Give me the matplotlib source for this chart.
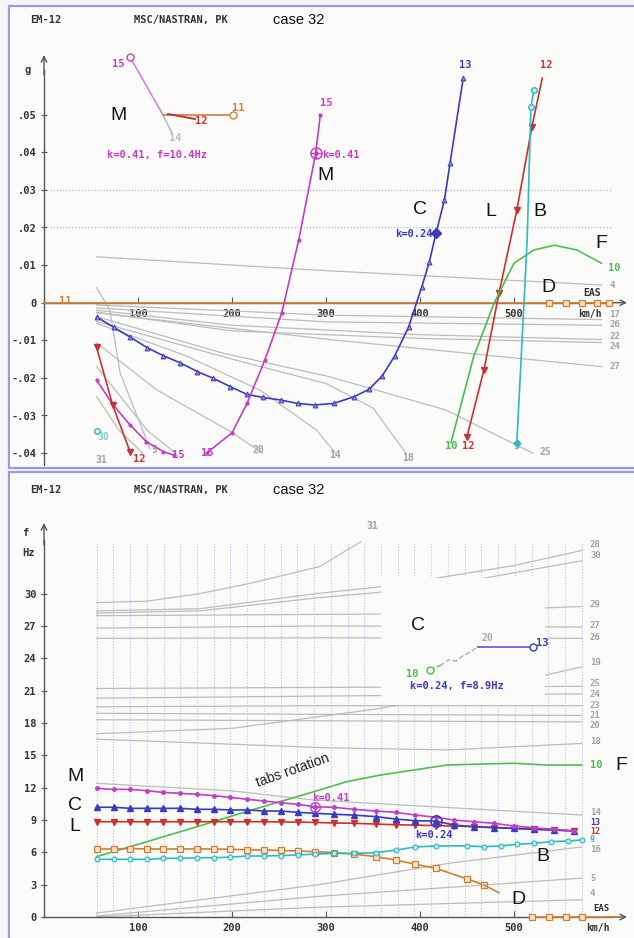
import numpy as np
import matplotlib
matplotlib.use('Agg')
import matplotlib.pyplot as plt
from matplotlib.patches import Rectangle

plt.rcParams['font.family'] = ['DejaVu Sans Mono']
plt.rcParams['font.weight'] = 'bold'

# ============ DATA : top panel (damping g vs EAS km/h) ============
C_top_V = [56, 74, 92, 110, 127, 145, 163, 180, 198, 216, 233, 252, 270, 288,
           308, 330, 346, 360, 373, 388, 402, 410, 417, 426, 432, 446]
C_top_g = [-0.0038, -0.0065, -0.0092, -0.0120, -0.0141, -0.0160, -0.0183, -0.0201,
           -0.0223, -0.0244, -0.0252, -0.0259, -0.0268, -0.0272, -0.0268, -0.0250,
           -0.0230, -0.0194, -0.0142, -0.0064, 0.0043, 0.0109, 0.0185, 0.0273,
           0.0372, 0.0598]
M_top1_V = [56, 73, 91.5, 109, 127, 138]
M_top1_g = [-0.0206, -0.0270, -0.0325, -0.0370, -0.0396, -0.0405]
M_top2_V = [173, 200, 216, 235, 253, 271, 289, 294]
M_top2_g = [-0.0400, -0.0346, -0.0268, -0.0152, -0.0027, 0.0167, 0.0397, 0.0500]
L_top1_V = [56, 73, 91.5]
L_top1_g = [-0.0119, -0.0272, -0.0396]
L_top2_V = [450, 468, 484, 503, 519, 530]
L_top2_g = [-0.0356, -0.0179, 0.0025, 0.0246, 0.0467, 0.0597]
B_top_V = [503, 514, 518, 521]
B_top_g = [-0.0373, 0.0166, 0.0520, 0.0565]
F_top_V = [433, 457, 479, 500, 521, 543, 567, 593]
F_top_g = [-0.0372, -0.0144, 0.0000, 0.0105, 0.0140, 0.0153, 0.0140, 0.0105]
D_top_V = [0, 537, 555, 572, 588, 601, 605]
D_top_g = [0, 0, 0, 0, 0, 0, 0]
D_top_mk = [537, 555, 572, 588, 601]

gray_top = {
    '4':  ([56, 287, 593], [0.0122, 0.0087, 0.0047]),
    '17': ([56, 300, 593], [-0.0006, -0.0033, -0.0045]),
    '26': ([56, 300, 593], [-0.0014, -0.0051, -0.0060]),
    '22': ([56, 200, 400, 593], [-0.0020, -0.0060, -0.0085, -0.0098]),
    '24': ([56, 200, 400, 593], [-0.0025, -0.0075, -0.0095, -0.0106]),
    '27': ([56, 304, 593], [-0.0027, -0.0098, -0.0170]),
    '25': ([56, 190, 304, 427, 520], [-0.0037, -0.0134, -0.0197, -0.0285, -0.0400]),
    '18': ([56, 200, 300, 350, 385], [-0.0050, -0.0150, -0.0215, -0.0280, -0.0400]),
    '14': ([56, 150, 230, 290, 310], [-0.0055, -0.0140, -0.0233, -0.0339, -0.0400]),
    '20': ([56, 120, 200, 232], [-0.0107, -0.0232, -0.0345, -0.0400]),
    '5':  ([56, 70, 81, 113], [0.0040, -0.0020, -0.0187, -0.0390]),
    '31': ([56, 80, 105], [-0.0250, -0.0340, -0.0400]),
    '':   ([56, 110, 140], [-0.0170, -0.0340, -0.0400]),
}

# ============ DATA : bottom panel (frequency f vs EAS km/h) ============
M_bot_V = [56, 74, 92, 110, 127, 145, 163, 181, 198, 216, 234, 252, 270, 288,
           309, 330, 353, 374, 395, 417, 436, 457, 479, 500, 521, 543, 564]
M_bot_f = [11.94, 11.84, 11.84, 11.71, 11.56, 11.47, 11.38, 11.25, 11.10, 10.92,
           10.76, 10.60, 10.45, 10.23, 10.17, 9.99, 9.83, 9.71, 9.46, 9.25, 9.00,
           8.84, 8.69, 8.44, 8.28, 8.13, 8.00]
C_bot_V = M_bot_V
C_bot_f = [10.18, 10.18, 10.08, 10.08, 10.08, 10.08, 9.99, 9.99, 9.93, 9.93, 9.83,
           9.83, 9.71, 9.62, 9.53, 9.45, 9.31, 9.09, 8.93, 8.90, 8.53, 8.38, 8.28,
           8.22, 8.13, 8.07, 7.98]
L_bot_V = M_bot_V
L_bot_f = [8.84, 8.84, 8.84, 8.84, 8.84, 8.84, 8.84, 8.84, 8.84, 8.84, 8.84, 8.82,
           8.80, 8.77, 8.72, 8.69, 8.62, 8.56, 8.52, 8.48, 8.44, 8.38, 8.30, 8.22,
           8.16, 8.07, 7.98]
D_bot_V = [56, 74, 92, 110, 127, 145, 163, 181, 198, 216, 234, 252, 270, 288, 309,
           330, 353, 374, 395, 417, 450, 468]
D_bot_f = [6.31, 6.31, 6.35, 6.31, 6.31, 6.31, 6.31, 6.31, 6.28, 6.24, 6.22, 6.18,
           6.12, 6.06, 5.97, 5.84, 5.59, 5.29, 4.89, 4.52, 3.53, 2.97]
D_bot_tailV = [468, 484]
D_bot_tailf = [2.97, 2.25]
D_bot0_V = [519, 537, 555, 572]
D_bot0_f = [0, 0, 0, 0]
B_bot_V = [56, 74, 92, 110, 127, 145, 163, 181, 198, 216, 234, 252, 270, 288, 309,
           330, 353, 374, 395, 417, 450, 468, 486, 503, 521, 539, 557, 572]
B_bot_f = [5.35, 5.35, 5.35, 5.35, 5.44, 5.44, 5.50, 5.50, 5.55, 5.66, 5.66, 5.70,
           5.75, 5.84, 5.90, 5.90, 5.97, 6.20, 6.50, 6.59, 6.60, 6.52, 6.60, 6.74,
           6.83, 6.99, 7.05, 7.14]
F_bot_V = [56, 110, 163, 220, 287, 322, 358, 394, 429, 465, 500, 535, 572]
F_bot_f = [5.6, 7.0, 8.38, 9.9, 11.62, 12.55, 13.17, 13.64, 14.1, 14.19, 14.26, 14.1, 14.1]

gray_bot = {
    '31': ([56, 110, 166, 219, 293, 337], [29.16, 29.3, 30.0, 30.95, 32.5, 34.8]),
    '28': ([56, 166, 290, 354, 415, 500, 572], [28.4, 28.6, 30.0, 30.6, 31.4, 32.6, 34.0]),
    '30': ([56, 166, 290, 354, 460, 572], [28.2, 28.4, 29.6, 30.1, 31.3, 33.05]),
    '29': ([56, 354, 572], [27.95, 28.1, 28.8]),
    '27': ([56, 300, 572], [26.8, 27.0, 26.9]),
    '26': ([56, 300, 572], [25.85, 25.9, 25.85]),
    '19': ([56, 200, 354, 460, 572], [17.0, 17.5, 19.3, 21.0, 23.2]),
    '25': ([56, 300, 572], [21.2, 21.3, 21.4]),
    '24': ([56, 300, 572], [20.3, 20.5, 20.7]),
    '23': ([56, 300, 572], [19.5, 19.6, 19.6]),
    '21': ([56, 300, 572], [18.9, 18.8, 18.7]),
    '20': ([56, 300, 572], [18.3, 18.2, 18.1]),
    '18': ([56, 300, 430, 572], [16.5, 15.7, 15.5, 16.1]),
    '14': ([56, 200, 287, 572], [12.4, 11.7, 10.85, 9.46]),
    '16': ([56, 290, 432, 572], [0.37, 2.97, 5.0, 6.5]),
    '5':  ([56, 290, 572], [0.1, 1.9, 3.6]),
    '4':  ([56, 290, 572], [0.0, 0.9, 1.6]),
}
gray_bot_lab = {'28': 34.6, '30': 33.5, '29': 29.0, '27': 27.0, '26': 25.95,
                '19': 23.65, '25': 21.65, '24': 20.65, '23': 19.6, '21': 18.65,
                '20': 17.75, '18': 16.3, '14': 9.65, '16': 6.3, '5': 3.6, '4': 2.2}

# root-locus insets (arbitrary Re/Im units)
rlM15_x, rlM15_y = [30, 63], [108, 50]
rlM14_x, rlM14_y = [63, 72], [50, 32]
rlM11_x, rlM11_y = [63, 133], [50, 50]
rlM12_x, rlM12_y = [68, 95], [51, 46]
rlC10_x, rlC10_y = [49, 60], [35, 40]
rlC20_x, rlC20_y = [59, 67, 75, 83, 90, 97], [39, 45, 44, 50, 53, 59]
rlC13_x, rlC13_y = [97, 152], [58, 58]

# ============ STYLE ============
W, H = 634, 938
MAG = '#c13fc4'; BLU = '#3b3bbf'; RED = '#c83232'; CYA = '#2fb9c4'
GRN = '#4cbf4c'; ORA = '#cf7f35'; GRY = '#bcbcbc'; GRT = '#a2a2a2'
AXC = '#555555'; BG = '#fbfbf9'; BORDER = '#9b9be3'
MONO = 'DejaVu Sans Mono'; SANS = 'Liberation Sans'

fig = plt.figure(figsize=(W / 100, H / 100), dpi=100)
fig.patch.set_facecolor('#f6f6f9')


def px_axes(x0, y0, x1, y1):
    return fig.add_axes([x0 / W, 1 - y1 / H, (x1 - x0) / W, (y1 - y0) / H])


def Vpx(px):
    return (px - 44) / 0.94


def gpy(py):
    return (302.7 - py) / 3760


def fpy(py):
    return (917 - py) / 10.78


def lab(ax, x, y, s, c, ha='center', va='center', size=7.5, **kw):
    ax.text(x, y, s, color=c, ha=ha, va=va, fontsize=size, fontweight='bold',
            family=MONO, **kw)


def big(ax, x, y, s, size=14, **kw):
    ax.text(x, y, s, color='#151515', ha='center', va='center', fontsize=size,
            fontweight='normal', family=SANS, **kw)


def setup(ax, ylo, yhi, yticks, ylabels, xhi):
    ax.set_facecolor(BG)
    for s in ['top', 'right']:
        ax.spines[s].set_visible(False)
    ax.spines['left'].set_position(('data', 0))
    ax.spines['bottom'].set_position(('data', 0))
    ax.spines['left'].set_bounds(ylo, yhi)
    ax.spines['bottom'].set_bounds(0, xhi)
    for s in ['left', 'bottom']:
        ax.spines[s].set_color(AXC)
        ax.spines[s].set_linewidth(1.0)
        ax.spines[s].set_zorder(2)
    ax.set_xticks([100, 200, 300, 400, 500])
    ax.set_xticklabels(['100', '200', '300', '400', '500'])
    ax.set_yticks(yticks)
    ax.set_yticklabels(ylabels)
    ax.tick_params(axis='x', direction='in', length=4, color=AXC, labelsize=7.5,
                   pad=4.5, labelcolor='#333333')
    ax.tick_params(axis='y', direction='inout', length=5, color=AXC, labelsize=7.5,
                   pad=3, labelcolor='#333333')


# panel frames
for (y0, y1) in [(6, 468), (472, 945)]:
    fig.add_artist(Rectangle((9 / W, 1 - y1 / H), (640 - 9) / W, (y1 - y0) / H,
                             transform=fig.transFigure, facecolor=BG,
                             edgecolor=BORDER, lw=1.6, zorder=0))

for yy in (20, 490):
    fig.text(30 / W, 1 - yy / H, 'EM-12', fontsize=7.5, fontweight='bold',
             family=MONO, va='center', color='#333333')
    fig.text(134 / W, 1 - yy / H, 'MSC/NASTRAN, PK', fontsize=7.5, fontweight='bold',
             family=MONO, va='center', color='#333333')
    fig.text(273 / W, 1 - yy / H, 'case 32', fontsize=10.5, fontweight='normal',
             family=SANS, va='center', color='#111111')

# ======================= TOP PANEL =======================
ax1 = px_axes(10, 9, 632, 466)
ax1.set_xlim(Vpx(10), Vpx(632))
ax1.set_ylim(gpy(466), gpy(9))
setup(ax1, gpy(465), gpy(70), [-0.04, -0.03, -0.02, -0.01, 0, 0.01, 0.02, 0.03, 0.04, 0.05],
      ['-.04', '-.03', '-.02', '-.01', '0', '.01', '.02', '.03', '.04', '.05'], Vpx(612))
ax1.annotate('', xy=(0, gpy(55)), xytext=(0, gpy(75)),
             arrowprops=dict(arrowstyle='->', color=AXC, lw=1, shrinkA=0, shrinkB=0))
ax1.annotate('', xy=(Vpx(627), 0), xytext=(Vpx(605), 0),
             arrowprops=dict(arrowstyle='->', color=AXC, lw=1, shrinkA=0, shrinkB=0))
lab(ax1, Vpx(28), gpy(70), 'g', '#333333')
lab(ax1, Vpx(592), gpy(293), 'EAS', '#333333', size=7)
lab(ax1, Vpx(590), gpy(314), 'km/h', '#333333', size=7)

for gl in (0.03, 0.02):
    ax1.hlines(gl, Vpx(50), Vpx(611), colors='#a9b9ec', linestyles=(0, (1, 1.5)),
               lw=0.9, zorder=1)

for name, (vv, gg) in gray_top.items():
    ax1.plot(vv, gg, color=GRY, lw=0.9, zorder=2)

# right-side gray labels
for s, py in [('4', 286), ('17', 314), ('26', 324), ('22', 336), ('24', 346), ('27', 366)]:
    lab(ax1, Vpx(609), gpy(py), s, GRT, ha='left', size=6.5)
for s, px, py in [('25', 545, 452), ('18', 408, 458), ('14', 335, 455), ('20', 258, 450),
                  ('5', 154, 450), ('31', 101, 460)]:
    lab(ax1, Vpx(px), gpy(py), s, GRT, size=7)

# coloured modes
ax1.plot(D_top_V, D_top_g, color=ORA, lw=1.2, zorder=3)
ax1.plot(D_top_mk, [0] * len(D_top_mk), ls='none', marker='s', ms=5, mfc='#f6e2c8',
         mec=ORA, mew=0.9, zorder=4)
lab(ax1, Vpx(65), gpy(301), '11', ORA)

ax1.plot(C_top_V, C_top_g, color=BLU, lw=1.2, marker='^', ms=3.5, mfc='#8d8de0',
         mec=BLU, mew=0.7, zorder=5)
ax1.plot([417], [0.0185], ls='none', marker='D', ms=5, color=BLU, zorder=6)
lab(ax1, 413, 0.0183, 'k=0.24', BLU, ha='right')
lab(ax1, Vpx(465), gpy(65), '13', BLU)

ax1.plot(M_top1_V, M_top1_g, color=MAG, lw=1.2, marker='o', ms=2, zorder=5)
ax1.plot(M_top2_V, M_top2_g, color=MAG, lw=1.2, marker='o', ms=2, zorder=5)
ax1.plot([289], [0.0397], ls='none', marker='o', ms=8, mfc='none', mec=MAG, mew=1, zorder=6)
ax1.plot([289], [0.0397], ls='none', marker='+', ms=8, mec=MAG, mew=1, zorder=6)
lab(ax1, 296, 0.0393, 'k=0.41', MAG, ha='left')
lab(ax1, Vpx(326), gpy(103), '15', MAG)
lab(ax1, Vpx(178), gpy(455), '15', MAG)
lab(ax1, Vpx(207), gpy(453), '15', MAG)

ax1.plot(L_top1_V, L_top1_g, color=RED, lw=1.2, marker='v', ms=4, zorder=5)
ax1.plot(L_top2_V[:-1], L_top2_g[:-1], ls='none', marker='v', ms=4, color=RED, zorder=5)
ax1.plot(L_top2_V, L_top2_g, color=RED, lw=1.2, zorder=5)
lab(ax1, Vpx(139), gpy(459), '12', RED)
lab(ax1, Vpx(468), gpy(446), '12', RED)
lab(ax1, Vpx(546), gpy(65), '12', RED)

ax1.plot(F_top_V, F_top_g, color=GRN, lw=1.2, zorder=5)
lab(ax1, Vpx(451), gpy(446), '10', GRN)
lab(ax1, Vpx(614), gpy(268), '10', GRN)

ax1.plot(B_top_V, B_top_g, color=CYA, lw=1.2, zorder=5)
ax1.plot([B_top_V[0]], [B_top_g[0]], ls='none', marker='D', ms=3.5, color=CYA, zorder=6)
ax1.plot(B_top_V[2:], B_top_g[2:], ls='none', marker='o', ms=4, mfc='#bfeef2',
         mec=CYA, zorder=6)
lab(ax1, Vpx(517), gpy(446), '9', CYA)
ax1.plot([56], [-0.034], ls='none', marker='o', ms=4, mfc='none', mec=CYA, zorder=6)
lab(ax1, Vpx(103), gpy(437), '30', '#8fc7cc', size=7)

big(ax1, Vpx(326), gpy(176), 'M')
big(ax1, Vpx(420), gpy(210), 'C')
big(ax1, Vpx(491), gpy(212), 'L')
big(ax1, Vpx(540), gpy(212), 'B')
big(ax1, Vpx(601), gpy(244), 'F')
big(ax1, Vpx(548), gpy(288), 'D')

# top inset (root locus M)
ai = px_axes(100, 45, 260, 165)
ai.set_xlim(0, 160); ai.set_ylim(0, 120); ai.axis('off')
ai.plot(rlM15_x, rlM15_y, color='#c98bd0', lw=1.2)
ai.plot(rlM15_x[:1], rlM15_y[:1], ls='none', marker='o', ms=5, mfc='white', mec=MAG)
ai.plot(rlM14_x, rlM14_y, color='#a9c3c9', lw=1.2)
ai.plot(rlM11_x, rlM11_y, color=ORA, lw=1.2)
ai.plot(rlM11_x[-1:], rlM11_y[-1:], ls='none', marker='o', ms=5, mfc='white', mec=ORA)
ai.plot(rlM12_x, rlM12_y, color=RED, lw=1.4)
lab(ai, 18, 101, '15', MAG)
lab(ai, 75, 27, '14', '#a9c3c9')
lab(ai, 138, 57, '11', ORA)
lab(ai, 101, 44, '12', RED)
big(ai, 18, 50, 'M')
lab(ai, 7, 10, 'k=0.41, f=10.4Hz', MAG, ha='left')

# ======================= BOTTOM PANEL =======================
ax2 = px_axes(10, 474, 632, 936)
ax2.set_xlim(Vpx(10), Vpx(632))
ax2.set_ylim(fpy(936), fpy(474))
setup(ax2, 0, fpy(540), [0, 3, 6, 9, 12, 15, 18, 21, 24, 27, 30],
      ['0', '3', '6', '9', '12', '15', '18', '21', '24', '27', '30'], Vpx(612))
ax2.annotate('', xy=(0, fpy(523)), xytext=(0, fpy(545)),
             arrowprops=dict(arrowstyle='->', color=AXC, lw=1, shrinkA=0, shrinkB=0))
ax2.annotate('', xy=(Vpx(627), 0), xytext=(Vpx(605), 0),
             arrowprops=dict(arrowstyle='->', color=AXC, lw=1, shrinkA=0, shrinkB=0))
lab(ax2, Vpx(25), fpy(533), 'f', '#333333')
lab(ax2, Vpx(28), fpy(553), 'Hz', '#333333')
lab(ax2, Vpx(601), fpy(908), 'EAS', '#333333', size=6.5)
lab(ax2, Vpx(598), fpy(928), 'km/h', '#333333', size=7)

vgrid = np.linspace(56, 572, 30)
ax2.vlines(vgrid, 0, fpy(542), colors='#b3c3ee', linestyles=(0, (1, 1.5)), lw=0.8, zorder=1)

for name, (vv, ff) in gray_bot.items():
    ax2.plot(vv, ff, color=GRY, lw=0.9, zorder=2)
for s, f in gray_bot_lab.items():
    lab(ax2, Vpx(590), f, s, GRT, ha='left', size=6.5)
lab(ax2, Vpx(372), fpy(526), '31', GRT, size=7)

ax2.plot(F_bot_V, F_bot_f, color=GRN, lw=1.2, zorder=4)
lab(ax2, Vpx(590), 14.1, '10', GRN, ha='left')

ax2.plot(D_bot_V, D_bot_f, color=ORA, lw=1.2, marker='s', ms=5, mfc='#f6e2c8',
         mec=ORA, mew=0.9, zorder=5)
ax2.plot(D_bot_tailV, D_bot_tailf, color=ORA, lw=1.2, zorder=5)
ax2.plot([519, 610], [0, 0], color=ORA, lw=1.2, zorder=4)
ax2.plot(D_bot0_V, D_bot0_f, ls='none', marker='s', ms=5, mfc='#f6e2c8', mec=ORA,
         mew=0.9, zorder=5)

ax2.plot(B_bot_V, B_bot_f, color=CYA, lw=1.2, marker='o', ms=3.5, mfc='#bfeef2',
         mec=CYA, mew=0.8, zorder=5)
lab(ax2, Vpx(590), 7.15, '9', CYA, ha='left', size=6)

ax2.plot(L_bot_V, L_bot_f, color=RED, lw=1.2, marker='v', ms=4, zorder=6)
ax2.plot(C_bot_V, C_bot_f, color=BLU, lw=1.2, marker='^', ms=4, zorder=6)
ax2.plot(M_bot_V, M_bot_f, color=MAG, lw=1.2, marker='o', ms=2.5, zorder=7)
lab(ax2, Vpx(590), 8.8, '13', BLU, ha='left', size=6)
lab(ax2, Vpx(590), 7.97, '12', RED, ha='left', size=6)

ax2.plot([288], [10.23], ls='none', marker='o', ms=7, mfc='none', mec=MAG, mew=1, zorder=8)
ax2.plot([288], [10.23], ls='none', marker='+', ms=7, mec=MAG, mew=1, zorder=8)
lab(ax2, 285, 11.0, 'k=0.41', MAG, ha='left')
ax2.plot([417], [8.9], ls='none', marker='o', ms=8, mfc='none', mec=BLU, mew=1.2, zorder=8)
lab(ax2, 395, 7.6, 'k=0.24', BLU, ha='left')

ax2.text(265, 13.6, 'tabs rotation', rotation=19.5, ha='center', va='center',
         fontsize=10, family=SANS, fontweight='normal', color='#222222',
         rotation_mode='anchor')

big(ax2, 33, 13.0, 'M')
big(ax2, 33, 10.3, 'C')
big(ax2, 33, 8.35, 'L')
big(ax2, Vpx(621), 14.1, 'F')
big(ax2, Vpx(543), 5.57, 'B')
big(ax2, Vpx(518), 1.58, 'D')

# bottom inset (root locus C)
bi = px_axes(381, 578, 545, 705)
bi.set_xlim(0, 164); bi.set_ylim(0, 127)
bi.set_facecolor(BG)
for sp in bi.spines.values():
    sp.set_visible(False)
bi.set_xticks([]); bi.set_yticks([])
bi.plot(rlC10_x, rlC10_y, color=GRN, lw=1, ls='--')
bi.plot(rlC10_x[:1], rlC10_y[:1], ls='none', marker='o', ms=5, mfc='white', mec=GRN)
bi.plot(rlC20_x, rlC20_y, color='#a8b8a8', lw=1, ls='--')
bi.plot(rlC13_x, rlC13_y, color='#5a5ad0', lw=1.2)
bi.plot(rlC13_x[-1:], rlC13_y[-1:], ls='none', marker='o', ms=5, mfc='white', mec=BLU)
big(bi, 37, 80, 'C')
lab(bi, 31, 31, '10', GRN)
lab(bi, 106, 67, '20', '#aaaaaa', size=7)
lab(bi, 161, 62, '13', BLU)
lab(bi, 29, 19, 'k=0.24, f=8.9Hz', BLU, ha='left')

fig.savefig('out.png', dpi=100, facecolor=fig.get_facecolor())
